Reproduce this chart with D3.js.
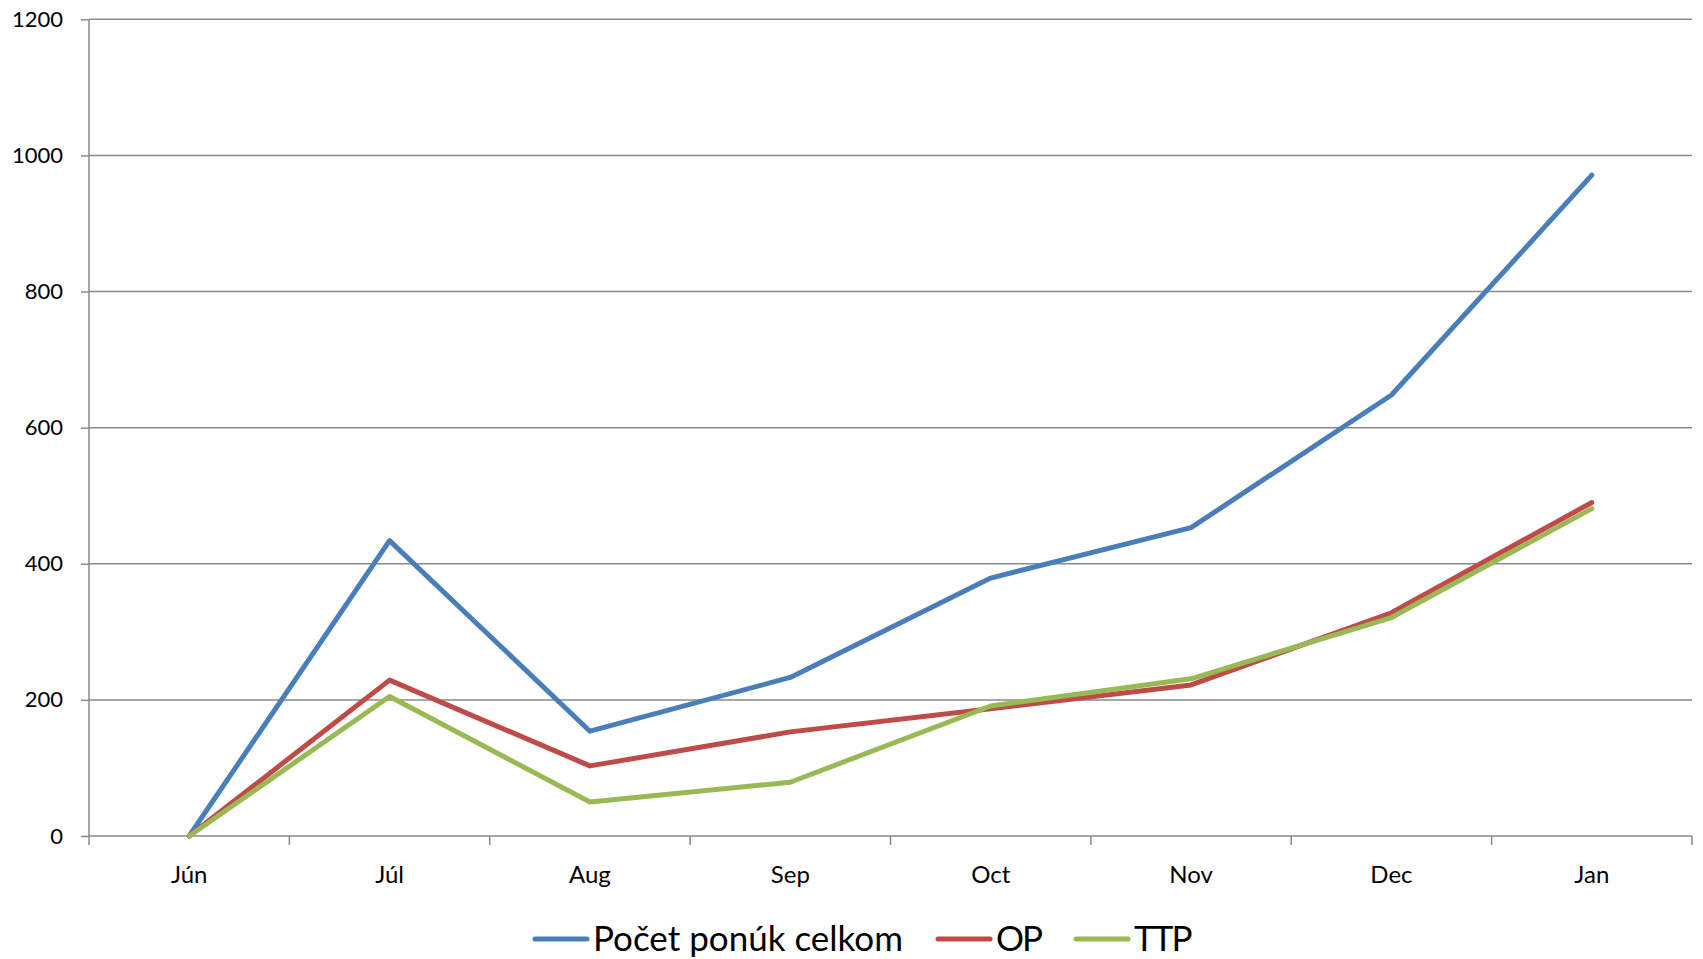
<!DOCTYPE html>
<html>
<head>
<meta charset="utf-8">
<script src="https://cdn.jsdelivr.net/npm/d3@7"></script>
<style>
  html, body { margin: 0; padding: 0; background: #fff; }
  svg { display: block; font-family: Lato, "Open Sans", sans-serif; }
</style>
</head>
<body>
<svg id="chart" width="1703" height="959"></svg>
<script>
const categories = ["Jún", "Júl", "Aug", "Sep", "Oct", "Nov", "Dec", "Jan"];
const seriesNames = ["Počet ponúk celkom", "OP", "TTP"];
const totalValues = [0, 434, 154, 233, 379, 453, 648, 971];
const opValues    = [0, 229, 103, 153, 187, 222, 328, 490];
const ttpValues   = [0, 205, 50, 79, 191, 231, 321, 481];
const yTicks = [0, 200, 400, 600, 800, 1000, 1200];
const colors = ["#4A7EBB", "#BE4B48", "#98B954"];

const series = [
  { name: seriesNames[0], values: totalValues, color: colors[0] },
  { name: seriesNames[1], values: opValues, color: colors[1] },
  { name: seriesNames[2], values: ttpValues, color: colors[2] }
];

const svg = d3.select("#chart");
const margin = { left: 89, right: 1692, top: 19.3, bottom: 836 };

const x = d3.scaleBand().domain(categories).range([margin.left, margin.right]).paddingInner(0).paddingOuter(0);
const y = d3.scaleLinear().domain([0, 1200]).range([margin.bottom, margin.top]);

const gridColor = "#8a8a8a";

// Gridlines
svg.append("g").selectAll("line").data(yTicks.filter(d => d > 0)).join("line")
  .attr("x1", margin.left).attr("x2", margin.right)
  .attr("y1", d => y(d)).attr("y2", d => y(d))
  .attr("stroke", gridColor).attr("stroke-width", 1.5);

// Y axis
const yAxis = d3.axisLeft(y).tickValues(yTicks).tickSize(8).tickPadding(18).tickFormat(d3.format("d"));
const gy = svg.append("g").attr("transform", `translate(${margin.left},0)`).call(yAxis);
gy.select(".domain").attr("stroke", gridColor).attr("stroke-width", 1.5).attr("d", `M0,${margin.top}V${margin.bottom}`);
gy.selectAll(".tick line").attr("stroke", gridColor).attr("stroke-width", 1.5);
gy.selectAll(".tick text").attr("fill", "#000").style("font-size", "22px").style("font-family", "Lato, sans-serif");

// X axis
const boundaries = categories.map(c => x(c)).concat([margin.right]);
const gx = svg.append("g");
gx.append("line").attr("x1", margin.left).attr("x2", margin.right)
  .attr("y1", margin.bottom).attr("y2", margin.bottom)
  .attr("stroke", gridColor).attr("stroke-width", 1.5);
gx.selectAll("line.tick").data(boundaries).join("line").attr("class", "tick")
  .attr("x1", d => d).attr("x2", d => d)
  .attr("y1", margin.bottom).attr("y2", margin.bottom + 9)
  .attr("stroke", gridColor).attr("stroke-width", 1.5);
gx.selectAll("text").data(categories).join("text")
  .attr("x", d => x(d) + x.bandwidth() / 2)
  .attr("y", margin.bottom + 47)
  .attr("text-anchor", "middle")
  .style("font-size", "24px")
  .attr("fill", "#000")
  .text(d => d);

// Lines
const line = d3.line()
  .x((d, i) => x(categories[i]) + x.bandwidth() / 2)
  .y(d => y(d));

svg.append("g").selectAll("path").data(series).join("path")
  .attr("d", d => line(d.values))
  .attr("fill", "none")
  .attr("stroke", d => d.color)
  .attr("stroke-width", 5)
  .attr("stroke-linejoin", "round")
  .attr("stroke-linecap", "round");

// Legend
const legend = svg.append("g");
let lx = 535;
const ly = 939;
series.forEach((s, i) => {
  legend.append("line").attr("x1", lx).attr("x2", lx + 52).attr("y1", ly).attr("y2", ly)
    .attr("stroke", s.color).attr("stroke-width", 5).attr("stroke-linecap", "round");
  const t = legend.append("text").attr("x", lx + 58).attr("y", ly + 12)
    .style("font-size", "35px").attr("fill", "#000").text(s.name);
  if (i > 0) t.style("letter-spacing", "-2px");
  const w = t.node().getComputedTextLength();
  lx = lx + 58 + w + 35;
});
</script>
</body>
</html>
